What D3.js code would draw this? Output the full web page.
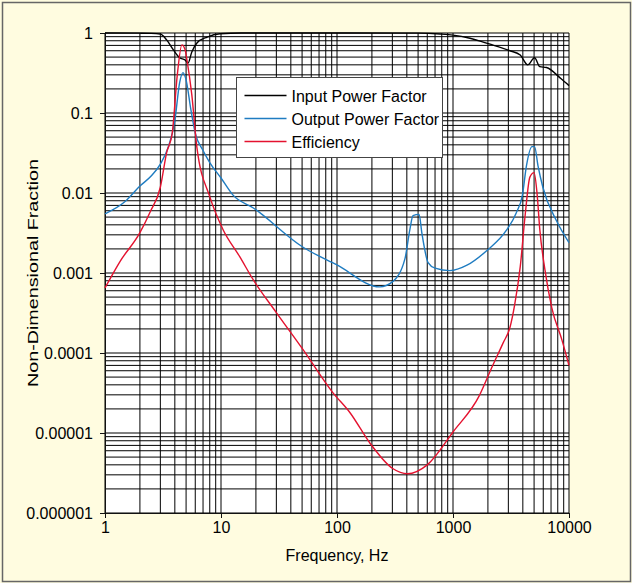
<!DOCTYPE html>
<html>
<head>
<meta charset="utf-8">
<script src="https://cdn.jsdelivr.net/npm/d3@7"></script>
<style>
  body { margin: 0; background: #fffce0; }
  text { font-family: Arial, "Liberation Sans", sans-serif; fill: #000; }
</style>
</head>
<body>
<div id="chart"></div>
<script>
// [frequency Hz, value]
const inputPF = [
  [1, 1.0], [2, 0.995], [2.5, 0.99], [3, 0.97], [3.4, 0.82], [3.9, 0.61], [4.4, 0.49],
  [4.9, 0.46], [5.2, 0.42], [5.6, 0.58], [6.2, 0.75], [7.6, 0.89], [9.8, 0.98],
  [15, 1.0], [100, 1.0], [500, 0.995], [776, 0.97], [1000, 0.94], [1400, 0.86],
  [2050, 0.73], [3100, 0.6], [3800, 0.53], [4400, 0.4], [5050, 0.49], [5600, 0.38],
  [6400, 0.37], [8500, 0.27], [10000, 0.22]
];
const outputPF = [
  [1, 0.0055], [1.5, 0.0079], [2, 0.0122], [2.5, 0.0163], [3, 0.023], [3.5, 0.037],
  [4, 0.08], [4.4, 0.24], [4.7, 0.32], [5, 0.26], [5.5, 0.11], [6, 0.056], [7, 0.034],
  [8, 0.024], [10, 0.0154], [12.7, 0.0094], [19, 0.0065], [51, 0.0021], [100, 0.00126],
  [234, 0.00067], [302, 0.00078], [385, 0.0015], [425, 0.0035], [452, 0.0052],
  [510, 0.0054], [540, 0.0031], [610, 0.00135], [700, 0.00115], [940, 0.00107],
  [1320, 0.00125], [1950, 0.0019], [2880, 0.0034], [3500, 0.0056], [3970, 0.0095],
  [4300, 0.022], [4800, 0.038], [5050, 0.038], [5400, 0.022], [5950, 0.0118],
  [7800, 0.0045], [10000, 0.0024]
];
const efficiency = [
  [1, 0.00065], [1.35, 0.0014], [2, 0.0032], [2.45, 0.0058], [3, 0.0118], [3.4, 0.032],
  [3.8, 0.056], [4.2, 0.3], [4.6, 0.71], [4.9, 0.62], [5.1, 0.45], [5.6, 0.17], [6.2, 0.037],
  [8, 0.009], [10.4, 0.0035], [14.5, 0.0016], [19, 0.00082], [30, 0.00032],
  [51, 0.00011], [92, 0.000032], [130, 0.0000178], [192, 0.0000075], [302, 0.0000036],
  [405, 0.0000031], [600, 0.000004], [1000, 0.0000103], [1700, 0.00003],
  [2150, 0.000065], [2700, 0.000133], [3100, 0.00021], [3400, 0.0004], [3800, 0.0012],
  [4200, 0.0055], [4600, 0.0158], [5000, 0.018], [5300, 0.01], [5600, 0.0035],
  [6200, 0.0011], [7100, 0.00037], [8700, 0.000145], [10000, 0.00007]
];

const series = [
  { name: "Input Power Factor", data: inputPF, color: "#000000" },
  { name: "Output Power Factor", data: outputPF, color: "#1f7cc1" },
  { name: "Efficiency", data: efficiency, color: "#e4122f" }
];
const xTicks = [1, 10, 100, 1000, 10000];
const yTicks = [1, 0.1, 0.01, 0.001, 0.0001, 0.00001, 0.000001];
const yTickLabels = ["1", "0.1", "0.01", "0.001", "0.0001", "0.00001", "0.000001"];

const width = 632, height = 583;
const margin = { left: 105, right: 63, top: 33, bottom: 70 };
const fontSize = 16;

const svg = d3.select("#chart").append("svg")
  .attr("width", width)
  .attr("height", height);

svg.append("rect")
  .attr("x", 2.5).attr("y", 2.5)
  .attr("width", width - 4).attr("height", height - 4)
  .attr("fill", "#fffce0")
  .attr("stroke", "#666")
  .attr("stroke-width", 1.5);

const x = d3.scaleLog().domain([1, 10000]).range([margin.left, width - margin.right]);
const y = d3.scaleLog().domain([0.000001, 1]).range([height - margin.bottom, margin.top]);

// plot area
svg.append("rect")
  .attr("x", x(1)).attr("y", y(1))
  .attr("width", x(10000) - x(1)).attr("height", y(0.000001) - y(1))
  .attr("fill", "#fff");

// grid - every 1..9 in each decade
const grid = svg.append("g").attr("stroke", "#000").attr("stroke-width", 1);
grid.selectAll(".vgrid")
  .data(x.ticks())
  .enter().append("line")
  .attr("x1", d => x(d)).attr("x2", d => x(d))
  .attr("y1", y(1)).attr("y2", y(0.000001));
grid.selectAll(".hgrid")
  .data(y.ticks())
  .enter().append("line")
  .attr("y1", d => y(d)).attr("y2", d => y(d))
  .attr("x1", x(1)).attr("x2", x(10000));

// axes
const yAxis = d3.axisLeft(y)
  .tickValues(yTicks)
  .tickFormat((d, i) => yTickLabels[i])
  .tickSize(5)
  .tickPadding(7);
const xAxis = d3.axisBottom(x)
  .tickValues(xTicks)
  .tickFormat(d3.format("d"))
  .tickSize(5)
  .tickPadding(4);

svg.append("g")
  .attr("transform", `translate(${x(1)},0)`)
  .call(yAxis)
  .call(g => g.select(".domain").attr("stroke", "#111"))
  .call(g => g.selectAll("line").attr("stroke", "#111"))
  .call(g => g.selectAll("text").attr("font-size", fontSize).attr("font-family", "Arial, 'Liberation Sans', sans-serif"));

svg.append("g")
  .attr("transform", `translate(0,${y(0.000001)})`)
  .call(xAxis)
  .call(g => g.select(".domain").attr("stroke", "#111"))
  .call(g => g.selectAll("line").attr("stroke", "#111"))
  .call(g => g.selectAll("text").attr("font-size", fontSize).attr("font-family", "Arial, 'Liberation Sans', sans-serif"));

// lines
const line = d3.line()
  .x(d => x(d[0]))
  .y(d => y(d[1]))
  .curve(d3.curveMonotoneX);

svg.append("g")
  .selectAll("path")
  .data(series)
  .enter().append("path")
  .attr("d", d => line(d.data))
  .attr("fill", "none")
  .attr("stroke", d => d.color)
  .attr("stroke-width", 1.4);

// legend
const legend = svg.append("g").attr("transform", "translate(236.5,77.5)");
legend.append("rect")
  .attr("width", 206).attr("height", 80)
  .attr("fill", "#fff")
  .attr("stroke", "#444")
  .attr("stroke-width", 1);
series.forEach((s, i) => {
  const ly = 18 + i * 23;
  legend.append("line")
    .attr("x1", 8).attr("x2", 50)
    .attr("y1", ly).attr("y2", ly)
    .attr("stroke", s.color)
    .attr("stroke-width", 1.4);
  legend.append("text")
    .attr("x", 55).attr("y", ly + 6)
    .attr("font-size", fontSize)
    .text(s.name);
});

// axis titles
svg.append("text")
  .attr("x", (x(1) + x(10000)) / 2)
  .attr("y", 561)
  .attr("text-anchor", "middle")
  .attr("font-size", fontSize)
  .text("Frequency, Hz");

svg.append("text")
  .attr("transform", `translate(38,${(y(1) + y(0.000001)) / 2}) rotate(-90)`)
  .attr("text-anchor", "middle")
  .attr("font-size", 15)
  .attr("textLength", 228)
  .attr("lengthAdjust", "spacingAndGlyphs")
  .text("Non-Dimensional Fraction");
</script>
</body>
</html>
